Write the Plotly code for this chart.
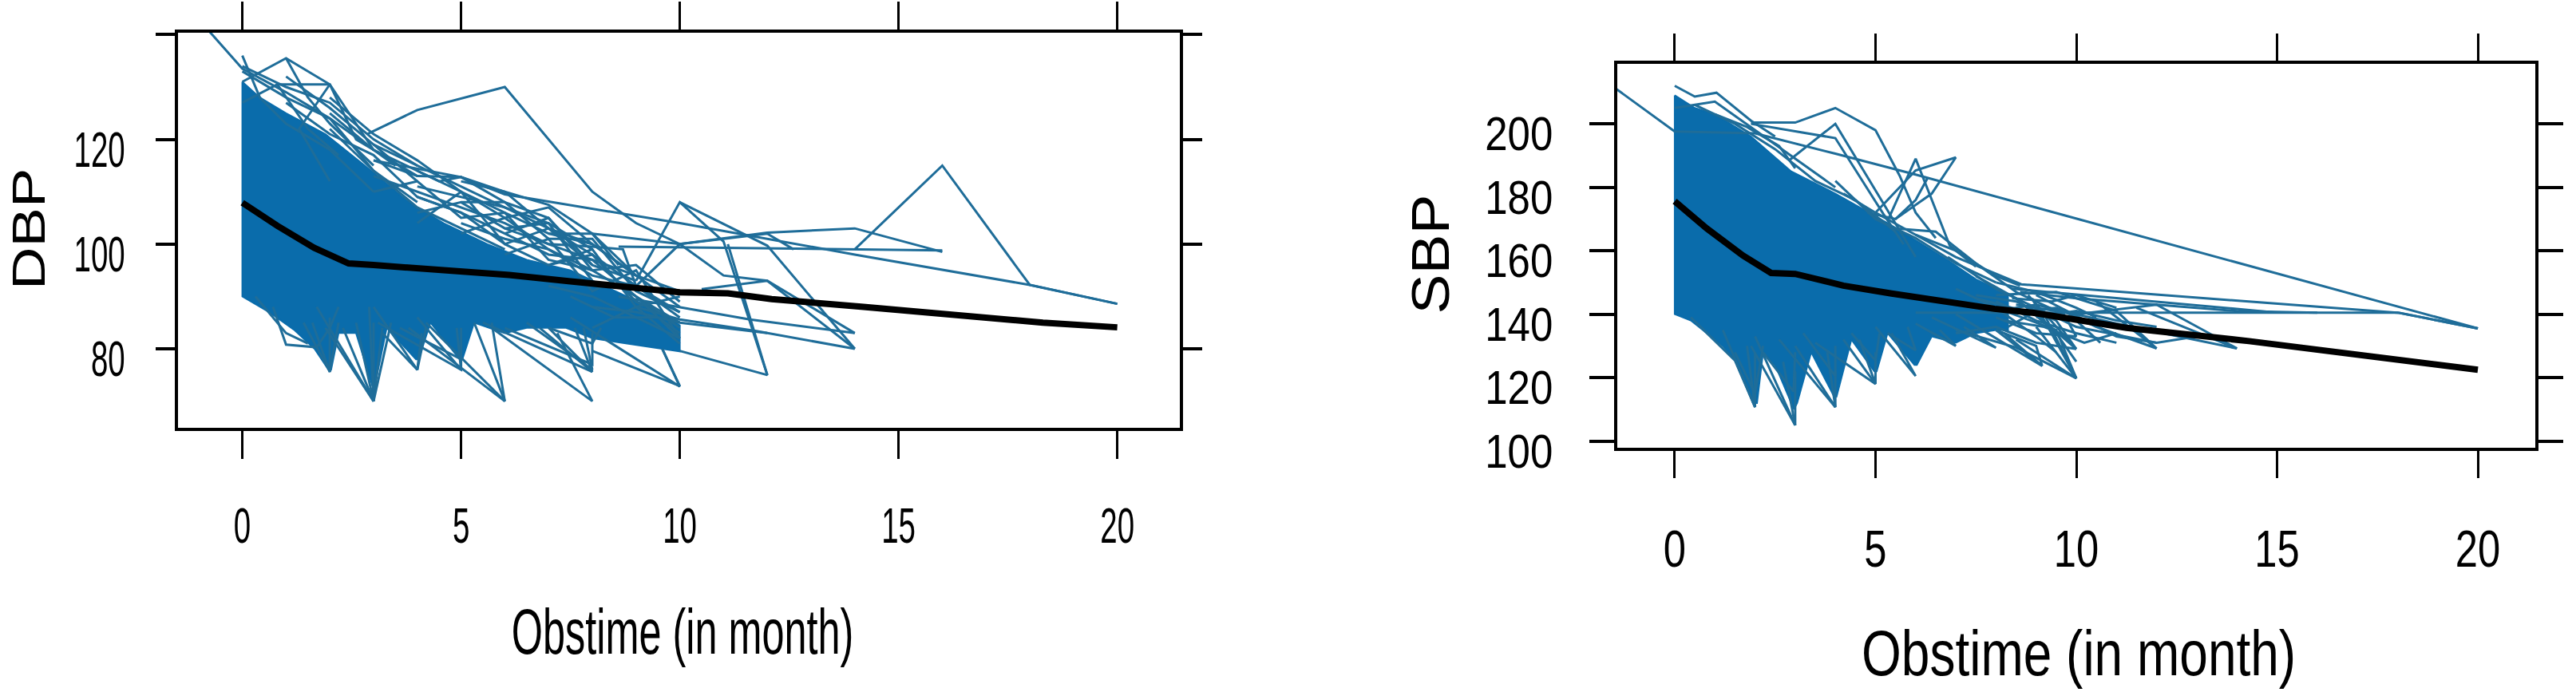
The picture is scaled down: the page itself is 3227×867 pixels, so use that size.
import plotly.graph_objects as go

W, H = 3227, 867

x_ticks = [0, 5, 10, 15, 20]
dbp_ticks = [80, 100, 120, 140]
dbp_tick_text = ["80", "100", "120", ""]
sbp_ticks = [100, 120, 140, 160, 180, 200]
sbp_tick_text = ["100", "120", "140", "160", "180", "200"]

dbp_mean_t = [0, 0.8, 1.64, 2.43, 3, 4.25, 6.1, 7.5, 9, 10, 11.1, 12.1, 14.2, 16.3, 18.3, 20]
dbp_mean_v = [107.9, 103.5, 99.3, 96.3, 96, 95.3, 94.1, 92.9, 91.6, 90.8, 90.6, 89.5, 88, 86.4, 85, 84.1]
sbp_mean_t = [0, 0.8, 1.7, 2.4, 3, 4.2, 5.4, 6.45, 7.96, 8.95, 11.25, 14.3, 15.1, 17.5, 20]
sbp_mean_v = [175.6, 167, 158.5, 153, 152.7, 149, 146.5, 144.5, 141.7, 140.4, 135.7, 131.5, 130.2, 126.4, 122.5]

# outline of the region where the subject lines merge into solid colour
dbp_dense_t = [0, 0, 0.63, 1.2, 1.65, 1.97, 2.03, 2.2, 2.6, 2.97, 3.03, 3.3, 3.97, 4.03, 4.3, 4.97, 5.03, 5.3, 6, 6.5, 7.4, 8, 10, 10, 9.3, 8, 7.5, 6.5, 5.6, 4.6, 3.8, 2.8, 1.9, 1, 0.4, 0]
dbp_dense_v = [131, 90, 86.9, 83.5, 80, 76, 76, 83, 83, 73, 73, 84, 78, 78, 85, 78, 78, 85, 83, 84, 84, 82, 79.5, 84.5, 88, 93, 95, 97, 100, 104, 108, 115, 121, 125, 128, 131]
sbp_dense_t = [0, 0, 0.4, 1.2, 1.6, 1.95, 2.05, 2.2, 2.5, 2.97, 3.05, 3.4, 3.97, 4.03, 4.4, 4.97, 5.03, 5.3, 5.97, 6.03, 6.4, 7, 7.5, 8, 8.3, 8.3, 8, 7.5, 6.8, 5.4, 4, 2.9, 1.9, 1, 0.5, 0]
sbp_dense_v = [209, 140, 138, 130, 124, 112, 112, 128, 124, 110, 112, 128, 114, 114, 132, 122, 122, 134, 124, 124, 133, 131, 134, 135, 135, 146, 148, 151, 157, 168, 178, 185, 196, 203, 205, 209]

dbp_upper = [
    [(-0.9, 142), (0, 133.5), (1, 129), (2, 124), (3, 118), (4, 113)],
    [(0, 136), (0.4, 128), (1, 123), (2, 118), (3, 110)],
    [(0, 133), (1, 128), (2, 124), (3, 114), (4, 108)],
    [(0, 131), (1, 135.5), (2, 130.5), (3, 118), (3.5, 115)],
    [(0.8, 130.5), (2, 130.5), (2.6, 120), (3, 118)],
    [(1, 135.5), (1.5, 128), (2, 123), (3, 115)],
    [(0, 127), (0.8, 130.5), (1.5, 122), (2.2, 117)],
    [(2, 130.5), (1.3, 122), (2, 112)],
    [(2, 125), (3, 118), (3.5, 116), (4.5, 112), (5, 112.8), (6, 110), (7, 103), (8, 100)],
    [(3, 116), (4, 113), (5, 112.8), (6, 108), (7, 105), (8, 96)],
    [(4, 111), (5, 109), (6, 107), (7, 103), (8, 98), (9, 92)],
    [(3, 113), (4, 110), (5, 107), (6, 104), (7, 100), (8, 97), (9, 94)],
    [(5, 112), (6, 110), (7, 107.5), (8, 102), (8.6, 96)],
    [(6, 105), (7, 107), (8, 100), (9, 94), (10, 91)],
    [(7, 102), (8, 102), (9, 94), (10, 88)],
    [(6, 103), (7, 100), (8, 99.5), (8.7, 99), (9, 92), (10, 86)],
    [(5, 104), (6, 101), (7, 99), (8, 95), (9, 90), (10, 85)],
    [(2, 122), (3, 114), (4, 107), (5, 103), (6, 99)],
    [(1, 127), (2, 121), (3, 117), (4, 109), (5, 106), (6, 100)],
    [(3, 110), (4, 112), (5, 105), (6, 106), (7, 97), (8, 95)],
    [(4, 106), (5, 108), (6, 103), (7, 104), (8, 93)],
    [(7, 96), (8, 98), (9, 89), (10, 85)],
    [(6, 98), (7, 101), (8, 91), (9, 95), (10, 82)],
    [(4, 114), (5, 110), (6, 106), (7, 102), (8, 100), (9, 94)],
    [(3, 119), (4, 115), (5, 111), (6, 107), (7, 104), (8, 99)],
    [(2, 128), (3, 121), (4, 116), (5, 110), (6, 105)],
    [(1, 132), (2, 126), (3, 119), (4, 112)],
    [(0, 134), (1, 130), (2, 127), (3, 120), (4, 115)],
    [(6, 102), (7, 105), (8, 95), (9, 96), (10, 89)],
    [(5, 108), (6, 108), (7, 101), (8, 101), (9, 91), (10, 87)],
    [(4, 109), (5, 106), (6, 102), (7, 98), (8, 97), (9, 90), (10, 84)],
    [(5, 102), (6, 105), (7, 99), (8, 94), (9, 92), (10, 87)],
    [(4, 104), (5, 110), (6, 100), (7, 103), (8, 96), (9, 93)],
    [(6, 100), (7, 96), (8, 99), (9, 88), (10, 90)],
    [(2.85, 121), (4, 125.6), (6, 130), (8, 110), (9, 104), (10, 100), (12, 102), (12.6, 99)],
]
dbp_tail = [
    [(8, 102), (10, 100), (12, 102.2), (14, 103), (16, 98.5)],
    [(8.6, 99.5), (14, 99), (16, 98.8)],
    [(14, 99), (16, 115), (18, 92.2), (20, 88.6)],
    [(3, 116), (5, 112.8), (6, 109.5), (10, 104), (14, 98), (18, 92.2), (20, 88.6)],
    [(9, 93), (10, 108), (11, 100.5), (12, 75)],
    [(10, 108), (12, 99.7), (14, 80)],
    [(9, 92), (10, 100), (11, 94), (12, 93), (14, 83)],
    [(10.5, 91.4), (12, 93), (14, 80)],
    [(9, 88), (10, 85.6), (11.75, 83.4), (14, 80)],
    [(8.6, 90), (11.6, 85.6), (14, 83)],
    [(8, 88), (9, 87), (10, 85), (12, 83)],
    [(8, 79.6), (10, 72.9), (9.6, 80)],
    [(10, 79.6), (12, 75), (11.1, 100)],
    [(8, 84), (9, 88), (10, 81)],
    [(7, 92), (8, 90), (9, 86), (10, 82), (9, 90)],
    [(7.5, 90), (8.5, 86), (9.5, 86), (10, 83)],
]
dbp_spikes = [
    [(0.7, 88), (1, 80.8), (1.7, 80.3), (2, 84), (2.2, 88)],
    [(0.3, 90), (0.7, 86), (1, 83), (1.5, 81)],
    [(1.4, 85), (2, 75.6), (2.2, 85)],
    [(1.6, 85), (2, 75.6), (2, 86)],
    [(1.7, 88), (3, 70), (3, 85)],
    [(1.9, 84), (3, 70), (2.9, 88)],
    [(2.3, 84), (3, 70), (3.2, 84)],
    [(2.6, 85), (3, 70), (3.4, 85)],
    [(3, 88), (4, 76), (4.2, 84)],
    [(3.2, 83), (4, 76), (4.1, 83)],
    [(3.1, 85), (5, 76), (5, 82)],
    [(4, 86), (5, 76), (4.9, 84)],
    [(3.6, 84), (5, 78), (5, 84)],
    [(3.8, 84), (6, 70), (5.3, 85)],
    [(4.2, 85), (6, 70), (5.7, 85)],
    [(5.7, 84), (8, 70), (7.2, 83)],
    [(5.5, 85), (8, 75.6), (7, 84)],
    [(6.8, 84), (8, 75.6), (7.6, 84)],
    [(6.5, 85), (8, 76), (7.8, 84)],
    [(7.5, 86), (10, 72.8), (9.6, 80)],
    [(7, 84), (8, 81), (8.2, 84)],
    [(6, 84), (8, 77), (8, 83)],
]

sbp_upper = [
    [(-2, 216), (0, 197.6), (2, 197), (4, 190.6), (6, 184), (20, 135.5)],
    [(0, 212), (0.5, 208.6), (1.04, 209.8), (1.9, 201), (2.5, 196)],
    [(1.9, 200.4), (3, 200.4), (4, 205), (5, 198), (5.6, 183.7), (6, 172), (6.5, 164)],
    [(1.9, 200), (4, 195.5), (5.2, 171.5), (5.7, 162)],
    [(2.86, 188.6), (4, 200), (5.44, 169.8), (6, 158)],
    [(4.2, 178), (5, 172), (6, 185.3), (7, 189.4), (6.4, 178), (5.5, 170)],
    [(5.3, 169.4), (6, 189), (6.85, 161.6), (7.5, 155)],
    [(4.8, 172), (5.5, 170), (6, 176), (6.3, 183)],
    [(0.5, 206), (1.5, 200), (2.5, 192), (3.5, 182), (4.5, 176), (5.5, 166)],
    [(0, 205), (1, 207), (2, 198), (2.9, 190), (4, 180)],
    [(1, 203), (1.8, 199), (2.6, 193), (3, 186)],
    [(4, 182), (5, 170), (6, 164), (7, 156), (8, 150)],
    [(5, 172), (6, 165), (7, 160), (8, 152), (8.6, 149)],
    [(5.5, 167), (6.5, 166), (7.5, 156), (8.5, 147), (9.5, 141)],
    [(6, 165), (7, 158), (8.63, 149.4), (18.05, 140.4), (20, 135.5)],
]
sbp_tail = [
    [(6, 140.5), (18, 140.5), (20, 135.5)],
    [(8.4, 148), (11, 145), (14, 141.5), (15, 140.5)],
    [(8.6, 147), (10, 145), (12, 143), (14, 141), (16, 140.5)],
    [(8, 146), (9.5, 147), (11, 141), (12, 129.2), (10.5, 144)],
    [(8.5, 143), (10, 140), (12, 143), (14, 129.2), (11.5, 142)],
    [(8, 141), (9, 143), (11, 137), (14, 129.2)],
    [(7.5, 146), (8.5, 144), (9.5, 138), (10, 129)],
    [(7.5, 145), (9, 140), (10, 129), (8.8, 146)],
    [(7, 134), (8, 136), (9, 131), (10, 129)],
    [(7, 135), (8.5, 129.5), (10, 119.8), (9.2, 140)],
    [(8, 142), (9.5, 135), (10, 119.8), (9, 136)],
    [(8.5, 132), (10, 119.8), (8.9, 145)],
    [(6.8, 158), (8, 148), (9, 142), (10, 136), (12, 131)],
    [(7.5, 152), (8.5, 145), (9.5, 134), (10, 125)],
    [(7, 148), (8, 142), (9, 133), (9.5, 128)],
    [(8, 135), (9, 130), (9.15, 123.7), (8.2, 134)],
    [(9, 146), (11, 133), (12, 131), (13, 133)],
    [(8, 144), (9, 138), (10, 134), (11, 131)],
    [(8.2, 138), (9.2, 136), (10.2, 131), (11, 134)],
    [(8.6, 141), (9.5, 142), (10.5, 136), (12, 129.2)],
    [(9, 139), (10, 141), (11, 138), (12, 136)],
    [(8, 150), (9, 147), (10, 142), (10.5, 139)],
    [(8.3, 136), (9, 141), (10, 138), (10.6, 131)],
    [(8, 139), (9, 134), (10, 133), (9.6, 142)],
    [(8.4, 145), (9.4, 144), (10, 146), (11, 142)],
]
sbp_spikes = [
    [(0.4, 139), (1.5, 125.4), (2, 110.7), (2, 128)],
    [(1.2, 135), (2, 110.7), (1.8, 130)],
    [(1.5, 128), (2, 115), (2.2, 130)],
    [(2, 133), (3, 105), (3, 122)],
    [(1.9, 130), (3, 105), (2.7, 125)],
    [(2.2, 128), (2.96, 115.6), (3, 128)],
    [(2.6, 132), (4, 110.7), (4, 122)],
    [(3, 130), (4, 110.7), (3.8, 128)],
    [(3.2, 134), (4, 120.5), (4, 130)],
    [(3.5, 131), (5, 118), (4.6, 132)],
    [(4.2, 132), (5, 118), (5, 128)],
    [(4.4, 134), (5, 125.4), (5.1, 134)],
    [(5, 136), (6, 120.5), (5.4, 134)],
    [(5.3, 134), (6, 128.6), (5.8, 136)],
    [(6, 137), (7, 130), (6.6, 135)],
    [(6.4, 139), (8, 129.4), (7.2, 136)],
    [(7, 140), (9.15, 123.7), (8, 135)],
]

teal = "#1f6d99"
solid = "#0a6cab"

fig = go.Figure()


def add_panel(dense_t, dense_v, groups, mean_t, mean_v, xa, ya):
    fig.add_trace(go.Scatter(x=dense_t, y=dense_v, xaxis=xa, yaxis=ya, mode="lines", fill="toself",
                             fillcolor=solid, line=dict(color=solid, width=2), showlegend=False))
    for group in groups:
        for subject in group:
            fig.add_trace(go.Scatter(x=[p[0] for p in subject], y=[p[1] for p in subject], xaxis=xa, yaxis=ya,
                                     mode="lines", line=dict(color=teal, width=3), showlegend=False))
    fig.add_trace(go.Scatter(x=mean_t, y=mean_v, xaxis=xa, yaxis=ya, mode="lines",
                             line=dict(color="#000000", width=8), showlegend=False))


add_panel(dbp_dense_t, dbp_dense_v, [dbp_upper, dbp_tail, dbp_spikes], dbp_mean_t, dbp_mean_v, "x", "y")
add_panel(sbp_dense_t, sbp_dense_v, [sbp_upper, sbp_tail, sbp_spikes], sbp_mean_t, sbp_mean_v, "x2", "y2")

sans = "Liberation Sans, Arial, sans-serif"
common_x = dict(tickmode="array", tickvals=x_ticks, ticks="outside", showgrid=False, zeroline=False,
                showline=True, linecolor="black", linewidth=3.5, mirror="ticks", tickcolor="black", tickwidth=2.5)
common_y = dict(tickmode="array", ticks="outside", showgrid=False, zeroline=False, showline=True,
                linecolor="black", linewidth=3.5, mirror="ticks", tickcolor="black", tickwidth=4)


def label(text, x, y, size, angle=0):
    return dict(text=text, x=x / W, y=1 - y / H, xref="paper", yref="paper", xanchor="center", yanchor="middle",
                textangle=angle, showarrow=False, font=dict(family=sans, size=size, color="black"))


fig.update_layout(
    width=W, height=H, margin=dict(l=0, r=0, t=0, b=0), paper_bgcolor="white", plot_bgcolor="white",
    xaxis=dict(domain=[223 / W, 1478 / W], range=[-1.47, 21.43], ticklen=35, ticklabelstandoff=30,
               tickfont=dict(family=sans, size=63, color="black"), anchor="y", **common_x),
    yaxis=dict(domain=[1 - 552 / H, 1 - 42 / H], range=[64.9, 140.4], tickvals=dbp_ticks, ticktext=dbp_tick_text,
               ticklen=24, ticklabelstandoff=26, tickfont=dict(family=sans, size=63, color="black"),
               anchor="x", **common_y),
    xaxis2=dict(domain=[2026 / W, 3176 / W], range=[-1.43, 21.43], ticklen=34, ticklabelstandoff=33,
                tickfont=dict(family=sans, size=65, color="black"), anchor="y2", **common_x),
    yaxis2=dict(domain=[1 - 578 / H, 1 - 82 / H], range=[97.8, 219], tickvals=sbp_ticks, ticktext=sbp_tick_text,
                ticklen=31, ticklabelstandoff=34, tickfont=dict(family=sans, size=60, color="black"),
                anchor="x2", **common_y),
    annotations=[
        label("DBP", 36, 296, 57, -90),
        label("SBP", 1792, 328, 67, -90),
        label("Obstime (in month)", 855, 815, 80),
        label("Obstime (in month)", 2604, 843, 80),
    ],
)

# The reference's lettering is anisotropically stretched; reproduce that on the real text elements.
squeeze = """
document.body.style.margin='0';document.body.style.overflow='hidden';
var gd=document.getElementById('{plot_id}');
function fit(sel,f,dy){gd.querySelectorAll(sel).forEach(function(t){
  if(!t.textContent)return;
  var n=t.getComputedTextLength();
  t.setAttribute('lengthAdjust','spacingAndGlyphs');
  t.setAttribute('textLength',n*f);
  if(dy)t.setAttribute('y',parseFloat(t.getAttribute('y')||0)+dy);
});}
fit('.xtick text',0.61,0);fit('.ytick text',0.61,12);fit('.x2tick text',0.78,0);fit('.y2tick text',0.85,12);
var a=gd.querySelectorAll('.annotation-text');
var k=[1.3,1.12,0.63,0.80];
a.forEach(function(t,i){var n=t.getComputedTextLength();t.setAttribute('lengthAdjust','spacingAndGlyphs');t.setAttribute('textLength',n*k[i]);});
"""
fig.write_html("out.html", config={"displayModeBar": False}, post_script=squeeze)
